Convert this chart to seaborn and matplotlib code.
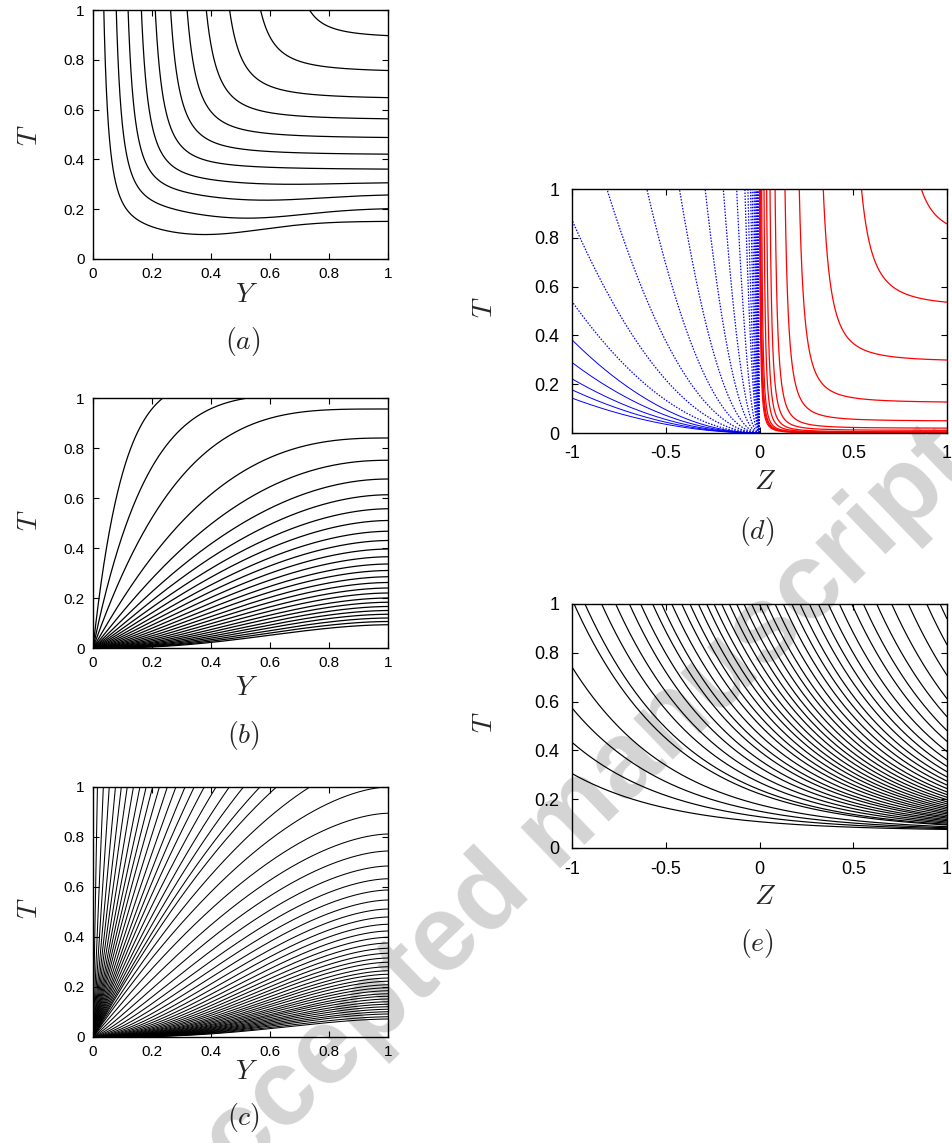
import numpy as np
import pandas as pd
import matplotlib
matplotlib.use("Agg")
import matplotlib.pyplot as plt
import seaborn as sns

# ---- values ----------------------------------------------------------------
# (a) where each curve leaves the top edge, and its value at Y = 1
a_top_y = [0.037, 0.079, 0.119, 0.164, 0.211, 0.263, 0.319, 0.384, 0.463, 0.568, 0.734]
a_end_t = [0.151, 0.202, 0.257, 0.306, 0.361, 0.421, 0.488, 0.563, 0.648, 0.757, 0.897]
a_dip = [0.06, 0.045, 0.028, 0.012, 0, 0, 0, 0, 0, 0, 0]      # depth of the low minimum
a_dip_at = [0.35, 0.5, 0.55, 0.6, 0.6, 0.6, 0.6, 0.6, 0.6, 0.6, 0.6]

# (b) two curves leave through the top, the rest end on Y = 1
b_top_y = [0.237, 0.525]
b_end_t = [0.956, 0.84, 0.751, 0.676, 0.613, 0.557, 0.51, 0.467, 0.43, 0.396,
           0.365, 0.336, 0.31, 0.285, 0.262, 0.24, 0.22, 0.2, 0.183, 0.166,
           0.15, 0.135, 0.12, 0.106, 0.093]

# (c)
c_top_y = [0.015, 0.035, 0.055, 0.076, 0.096, 0.116, 0.137, 0.159, 0.18, 0.202,
           0.225, 0.252, 0.281, 0.312, 0.343, 0.377, 0.417, 0.462, 0.51, 0.566,
           0.622, 0.735]
c_end_t = [1.0, 0.895, 0.812, 0.744, 0.684, 0.633, 0.588, 0.548, 0.512, 0.48,
           0.451, 0.424, 0.399, 0.376, 0.355, 0.335, 0.316, 0.299, 0.281, 0.265,
           0.251, 0.236, 0.223, 0.209, 0.197, 0.185, 0.173, 0.163, 0.152, 0.141,
           0.131, 0.121, 0.111, 0.101, 0.092, 0.081, 0.072]

# (d) blue family (Z < 0): exits on the left edge / on the top edge
d_blue_left_t = [0.143, 0.177, 0.222, 0.289, 0.382, 0.539, 0.873]
d_blue_top_z = [-0.814, -0.601, -0.427, -0.29, -0.193, -0.122, -0.078, -0.062,
                -0.048, -0.039, -0.03, -0.025, -0.02, -0.016, -0.013, -0.01,
                -0.008, -0.005]
# (d) red family (Z > 0): top crossing and value at Z = 1
d_red_top_z = [0.0, 0.003, 0.006, 0.0115, 0.024, 0.038, 0.056, 0.083, 0.136,
               0.212, 0.34, 0.544, 0.863]
d_red_end_t = [0.0005, 0.001, 0.0015, 0.002, 0.003, 0.005, 0.011, 0.02, 0.05,
               0.127, 0.299, 0.536, 0.857]

# (e) entries on the left edge, crossings of the top edge, common floor
e_left_t = [0.305, 0.433, 0.574, 0.742]
e_top_z = [-0.989, -0.931, -0.842, -0.767, -0.694, -0.634, -0.570, -0.522, -0.468,
           -0.415, -0.371, -0.326, -0.282, -0.243, -0.202, -0.161, -0.122, -0.083,
           -0.042, -0.001, 0.038, 0.083, 0.127, 0.172, 0.216, 0.266, 0.314, 0.367,
           0.426, 0.492, 0.554, 0.625, 0.705, 0.794, 0.892, 0.963]
e_floor = 0.07
e_decay = 0.546


# ---- curve shapes ----------------------------------------------------------
def drop(x0, t_end, s, dip=0.0, dip_at=0.5, dip_w=0.3, x_end=1.0):
    # L-shaped curve: vertical near x0 at the top, flat towards t_end
    u = np.linspace(0, 1, 700)
    x = (x0 - 0.1 * s) + (x_end - x0 + 0.1 * s) * u ** 2
    r = (s / (x - x0 + s)) ** 2
    g = np.exp(-((x - dip_at) / dip_w) ** 2)
    r1 = (s / (x_end - x0 + s)) ** 2
    g1 = np.exp(-((x_end - dip_at) / dip_w) ** 2)
    tinf = (t_end - r1 + dip * g1) / (1 - r1)
    return x, tinf + (1 - tinf) * r - dip * g


def rise(amp, m, q):
    y = np.linspace(0, 1, 700) ** 2
    return y, amp * (1 - (1 - y) ** m) ** q


def frame(curves):
    parts = [pd.DataFrame({"x": x, "t": t, "curve": i}) for i, (x, t) in enumerate(curves)]
    df = pd.concat(parts, ignore_index=True)
    return df[(df.t <= 1.3) & (df.t >= -0.05)]


def draw(ax, curves, **kw):
    sns.lineplot(data=frame(curves), x="x", y="t", units="curve", estimator=None,
                 sort=False, legend=False, ax=ax, **kw)


# ---- build the families ----------------------------------------------------
curves_a = [drop(y0, te, 0.03 + 0.12 * y0, dp, da)
            for y0, te, dp, da in zip(a_top_y, a_end_t, a_dip, a_dip_at)]

curves_b = []
n_b = len(b_top_y) + len(b_end_t)
for k in range(n_b):
    m = 1.8 + 8.2 * np.exp(-k / 1.3)
    q = 1 + 1.8 * (k / (n_b - 1)) ** 2
    if k < len(b_top_y):
        amp = 1 / (1 - (1 - b_top_y[k]) ** m)
    else:
        amp = b_end_t[k - len(b_top_y)]
    curves_b.append(rise(amp, m, q))

c_m = 1.7
curves_c = [rise(1 / (1 - (1 - y0) ** c_m), c_m, 1.0) for y0 in c_top_y]
curves_c += [rise(te, c_m, 1 + 2.6 * (1 - te) ** 2) for te in c_end_t]

zb = -np.linspace(0, 1, 900) ** 2.5
blue_solid = [(zb, c * zb ** 2) for c in d_blue_left_t[:5]]
blue_dot = [(zb, c * zb ** 2) for c in d_blue_left_t[5:]]
blue_dot += [(zb, (zb / z0) ** 2) for z0 in d_blue_top_z]
curves_red = [drop(z0, te, 0.01 + 0.2 * z0) for z0, te in zip(d_red_top_z, d_red_end_t)]

ze = np.linspace(-1, 1, 500)
e_cross = [-1 - e_decay * np.log((1 - e_floor) / (t - e_floor)) for t in e_left_t]
curves_e = [(ze, e_floor + (1 - e_floor) * np.exp(-(ze - zc) / e_decay))
            for zc in e_cross + e_top_z]

# ---- figure ----------------------------------------------------------------
sns.set_style("white")
plt.rcParams["font.family"] = ["Liberation Sans", "DejaVu Sans"]
plt.rcParams["mathtext.fontset"] = "cm"

W, H = 952, 1143
fig = plt.figure(figsize=(W / 100, H / 100), dpi=100)


def add_ax(l, t, r, b):
    return fig.add_axes([l / W, 1 - b / H, (r - l) / W, (b - t) / H])


def label(x, y, s, **kw):
    fig.text(x / W, 1 - y / H, s, ha="center", va="center", fontsize=20, **kw)


def style(ax, xticks, xlabels, size, pad):
    ax.set_facecolor("none")
    ax.set_xlabel("")
    ax.set_ylabel("")
    ax.set_xlim(xticks[0], xticks[-1])
    ax.set_ylim(0, 1)
    ax.set_xticks(xticks)
    ax.set_xticklabels(xlabels)
    ax.set_yticks([0, 0.2, 0.4, 0.6, 0.8, 1])
    ax.set_yticklabels(["0", "0.2", "0.4", "0.6", "0.8", "1"])
    ax.tick_params(direction="in", bottom=True, left=True, top=True, right=True,
                   length=4, width=0.8, labelsize=size, pad=pad, colors="k")
    for sp in ax.spines.values():
        sp.set_visible(True)
        sp.set_color("k")
        sp.set_linewidth(1.0)


# watermark of the source page, behind everything
fig.text(560 / W, 1 - 830 / H, "Accepted manuscript", rotation=44, fontsize=78,
         fontweight="bold", color="#d4d4d4", ha="center", va="center", zorder=-1)

yt = [0, 0.2, 0.4, 0.6, 0.8, 1]
ytl = ["0", "0.2", "0.4", "0.6", "0.8", "1"]
zt = [-1, -0.5, 0, 0.5, 1]
ztl = ["-1", "-0.5", "0", "0.5", "1"]

ax_a = add_ax(93, 10, 388, 259)
draw(ax_a, curves_a, color="k", linewidth=0.9)
style(ax_a, yt, ytl, 11, 6)

ax_b = add_ax(93, 398, 388, 648)
draw(ax_b, curves_b, color="k", linewidth=0.9)
style(ax_b, yt, ytl, 11, 6)

ax_c = add_ax(93, 787, 388, 1037)
draw(ax_c, curves_c, color="k", linewidth=0.75)
style(ax_c, yt, ytl, 11, 6)

ax_d = add_ax(572, 189, 947, 433)
draw(ax_d, blue_solid, color="#0000ff", linewidth=0.7)
draw(ax_d, blue_dot, color="#0000ff", linewidth=0.9, linestyle=(0, (1.2, 1.2)))
draw(ax_d, curves_red, color="#ff0000", linewidth=0.9)
style(ax_d, zt, ztl, 13, 9)

ax_e = add_ax(572, 604, 947, 848)
draw(ax_e, curves_e, color="k", linewidth=0.85)
style(ax_e, zt, ztl, 13, 9)

for yy in (135, 520, 908):
    label(30, yy, r"$T$", rotation=90)
label(247, 295, r"$Y$")
label(247, 688, r"$Y$")
label(247, 1072, r"$Y$")
label(243, 342, r"$(a)$")
label(243, 735, r"$(b)$")
label(243, 1118, r"$(c)$")
label(485, 307, r"$T$", rotation=90)
label(485, 722, r"$T$", rotation=90)
label(765, 482, r"$Z$")
label(765, 897, r"$Z$")
label(757, 532, r"$(d)$")
label(757, 943, r"$(e)$")

fig.savefig("out.png", dpi=100)
